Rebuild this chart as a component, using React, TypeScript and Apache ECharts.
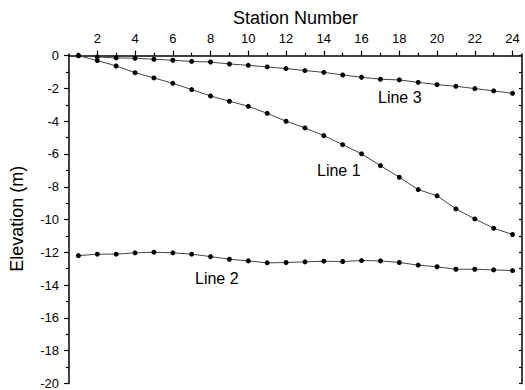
import React, { useEffect, useRef } from "react";
import * as echarts from "echarts";

// Station numbers along the traverse
const stations: number[] = [
  1, 2, 3, 4, 5, 6, 7, 8, 9, 10, 11, 12, 13, 14, 15, 16, 17, 18, 19, 20, 21, 22, 23, 24,
];

// Elevation (m) at each station
const line1: number[] = [
  0, -0.3, -0.63, -1.04, -1.36, -1.69, -2.07, -2.46, -2.78, -3.09, -3.52, -4.0,
  -4.41, -4.88, -5.43, -5.99, -6.71, -7.42, -8.17, -8.55, -9.35, -9.96, -10.53, -10.91,
];
const line2: number[] = [
  -12.2, -12.11, -12.11, -12.03, -11.99, -12.03, -12.11, -12.26, -12.42, -12.52, -12.64, -12.62,
  -12.58, -12.54, -12.56, -12.5, -12.52, -12.62, -12.78, -12.88, -13.03, -13.03, -13.07, -13.11,
];
const line3: number[] = [
  0, -0.08, -0.14, -0.16, -0.22, -0.28, -0.35, -0.39, -0.51, -0.59, -0.69, -0.79,
  -0.91, -1.02, -1.18, -1.32, -1.44, -1.48, -1.63, -1.77, -1.87, -2.01, -2.15, -2.3,
];

// Tick positions
const xMajorTicks: number[] = [2, 4, 6, 8, 10, 12, 14, 16, 18, 20, 22, 24];
const xMinorTicks: number[] = [1, 3, 5, 7, 9, 11, 13, 15, 17, 19, 21, 23];
const yMajorTicks: number[] = [0, -2, -4, -6, -8, -10, -12, -14, -16, -18, -20];
const yMinorTicks: number[] = [-1, -3, -5, -7, -9, -11, -13, -15, -17, -19];
const yRightTicks: number[] = [...yMajorTicks, ...yMinorTicks];

const FONT = "'Liberation Sans', Arial, Helvetica, sans-serif";
const X_MIN = 0.5;
const X_MAX = 24.5;
const Y_MIN = -20;
const Y_MAX = 0.1;

const axisLineStyle = { color: "#000", width: 1.5 };
const tickLineStyle = { color: "#000", width: 1.2 };

export default function App() {
  const ref = useRef<HTMLDivElement>(null);

  useEffect(() => {
    if (!ref.current) return;
    const chart = echarts.init(ref.current, undefined, { renderer: "svg" });

    const toPoints = (vals: number[]) => stations.map((s, i) => [s, vals[i]]);
    const makeSeries = (name: string, vals: number[]) => ({
      name,
      type: "line",
      xAxisIndex: 0,
      yAxisIndex: 0,
      data: toPoints(vals),
      symbol: "circle",
      symbolSize: 5,
      itemStyle: { color: "#000" },
      lineStyle: { color: "#444", width: 1 },
      emphasis: { disabled: true },
    });

    const lineLabel = (text: string, x: number, y: number) => ({
      type: "text",
      x,
      y,
      style: {
        text,
        fontSize: 16,
        fontFamily: FONT,
        fill: "#000",
        textVerticalAlign: "middle",
      },
    });

    chart.setOption({
      animation: false,
      backgroundColor: "#fff",
      grid: { left: 69, right: 3, top: 54, bottom: 5 },
      xAxis: [
        {
          type: "value",
          position: "top",
          min: X_MIN,
          max: X_MAX,
          name: "Station Number",
          nameLocation: "middle",
          nameGap: 27,
          nameTextStyle: { fontSize: 18, color: "#000", fontFamily: FONT },
          axisLine: { show: true, lineStyle: axisLineStyle },
          axisTick: { show: true, inside: false, length: 5, customValues: xMajorTicks, lineStyle: tickLineStyle },
          axisLabel: { customValues: xMajorTicks, margin: 9, fontSize: 13, color: "#000", fontFamily: FONT },
          splitLine: { show: false },
        },
        {
          type: "value",
          position: "top",
          min: X_MIN,
          max: X_MAX,
          axisLine: { show: false },
          axisTick: { show: true, inside: false, length: 3, customValues: xMinorTicks, lineStyle: tickLineStyle },
          axisLabel: { show: false },
          splitLine: { show: false },
        },
      ],
      yAxis: [
        {
          type: "value",
          position: "left",
          min: Y_MIN,
          max: Y_MAX,
          name: "Elevation (m)",
          nameLocation: "middle",
          nameGap: 43,
          nameRotate: 90,
          nameTextStyle: { fontSize: 18, color: "#000", fontFamily: FONT },
          axisLine: { show: true, lineStyle: axisLineStyle },
          axisTick: { show: true, inside: false, length: 5, customValues: yMajorTicks, lineStyle: tickLineStyle },
          axisLabel: { customValues: yMajorTicks, margin: 10, fontSize: 13, color: "#000", fontFamily: FONT },
          splitLine: { show: false },
        },
        {
          type: "value",
          position: "left",
          min: Y_MIN,
          max: Y_MAX,
          axisLine: { show: false },
          axisTick: { show: true, inside: false, length: 3, customValues: yMinorTicks, lineStyle: tickLineStyle },
          axisLabel: { show: false },
          splitLine: { show: false },
        },
        {
          type: "value",
          position: "right",
          min: Y_MIN,
          max: Y_MAX,
          axisLine: { show: true, lineStyle: axisLineStyle },
          axisTick: { show: true, inside: true, length: 3, customValues: yRightTicks, lineStyle: tickLineStyle },
          axisLabel: { show: false },
          splitLine: { show: false },
        },
      ],
      series: [
        makeSeries("Line 1", line1),
        makeSeries("Line 2", line2),
        makeSeries("Line 3", line3),
      ],
      graphic: [
        lineLabel("Line 3", 378, 97),
        lineLabel("Line 1", 317, 170),
        lineLabel("Line 2", 195, 278),
      ],
    });

    return () => chart.dispose();
  }, []);

  return (
    <div
      ref={ref}
      style={{ position: "fixed", left: 0, top: 0, width: 525, height: 390, background: "#fff" }}
    />
  );
}
